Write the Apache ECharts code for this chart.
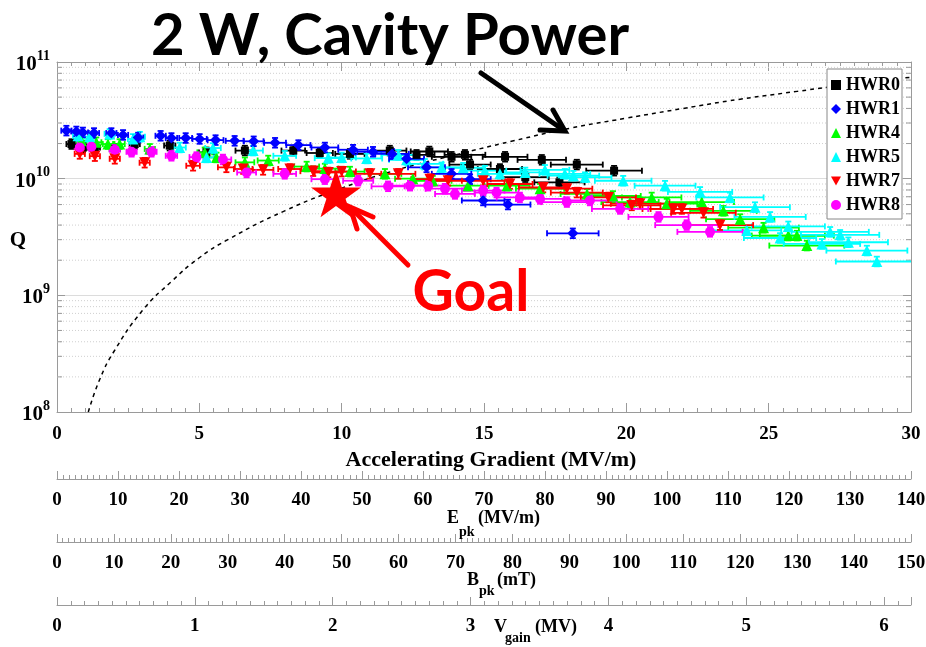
<!DOCTYPE html>
<html><head><meta charset="utf-8">
<script src="https://cdn.jsdelivr.net/npm/echarts@6/dist/echarts.min.js"></script>
<style>html,body{margin:0;padding:0;background:#fff}#c{width:926px;height:647px}</style>
</head><body><div id="c"></div>
<script>
// ---- data ----
const seriesNames = ['HWR0','HWR1','HWR4','HWR5','HWR7','HWR8'];
const hwr0 = [[0.51,1.98e10],[0.91,1.85e10],[1.33,1.85e10],[2.03,1.80e10],[2.73,1.98e10],[3.96,1.92e10],[5.25,1.68e10],[6.60,1.74e10],[8.30,1.74e10],[9.23,1.66e10],[10.29,1.63e10],[11.69,1.74e10],[12.63,1.60e10],[13.08,1.71e10],[13.86,1.54e10],[14.33,1.60e10],[14.51,1.32e10],[15.56,1.21e10],[15.74,1.54e10],[16.45,1.03e10],[17.03,1.45e10],[17.65,9.3e9],[18.26,1.32e10],[19.57,1.17e10]];
const hwr1 = [[0.33,2.58e10],[0.68,2.54e10],[0.91,2.49e10],[1.30,2.46e10],[1.91,2.46e10],[2.32,2.37e10],[2.85,2.25e10],[3.64,2.33e10],[4.02,2.23e10],[4.52,2.23e10],[5.01,2.19e10],[5.57,2.14e10],[6.24,2.11e10],[6.91,2.09e10],[7.66,2.03e10],[8.48,1.94e10],[9.41,1.85e10],[10.40,1.77e10],[11.10,1.70e10],[11.77,1.63e10],[12.28,1.48e10],[12.98,1.25e10],[13.86,1.10e10],[14.51,9.9e9],[14.97,6.5e9],[15.84,6.0e9],[18.12,3.4e9]];
const hwr4 = [[0.86,2.11e10],[1.38,2.05e10],[1.79,1.98e10],[2.20,1.98e10],[3.26,1.80e10],[5.19,1.68e10],[5.60,1.52e10],[6.60,1.38e10],[7.42,1.43e10],[8.77,1.27e10],[9.41,1.22e10],[10.29,1.15e10],[11.52,1.10e10],[12.50,1.0e10],[13.20,9.6e9],[14.44,8.7e9],[15.81,8.7e9],[16.97,8.2e9],[18.62,7.4e9],[19.53,7.1e9],[20.13,6.3e9],[20.89,6.9e9],[21.42,6.1e9],[22.65,6.3e9],[23.41,5.3e9],[24.00,4.5e9],[24.82,3.8e9],[25.69,3.25e9],[25.99,3.25e9],[26.34,2.67e9]];
const hwr5 = [[0.74,2.33e10],[1.15,2.29e10],[1.85,2.42e10],[2.67,2.19e10],[2.91,2.29e10],[4.31,1.85e10],[5.25,1.52e10],[5.48,1.83e10],[6.89,1.74e10],[8.00,1.57e10],[9.53,1.50e10],[10.0,1.52e10],[10.88,1.49e10],[11.99,1.60e10],[12.28,1.45e10],[12.92,1.34e10],[13.51,1.25e10],[14.27,1.24e10],[15.03,1.17e10],[15.56,1.10e10],[16.45,1.13e10],[17.14,1.19e10],[17.84,1.10e10],[18.14,1.06e10],[18.55,1.03e10],[19.89,9.6e9],[21.36,8.7e9],[22.59,7.7e9],[23.64,6.9e9],[24.52,5.7e9],[25.05,4.7e9],[25.69,3.9e9],[24.23,3.6e9],[25.40,3.1e9],[26.87,2.76e9],[27.16,3.5e9],[27.51,3.3e9],[27.80,2.85e9],[28.45,2.42e9],[28.80,1.95e9]];
const hwr7 = [[0.80,1.63e10],[1.33,1.56e10],[2.03,1.48e10],[3.08,1.37e10],[4.78,1.29e10],[5.95,1.25e10],[6.54,1.21e10],[7.24,1.19e10],[8.18,1.21e10],[9.00,1.16e10],[9.53,1.13e10],[10.0,1.15e10],[10.99,1.10e10],[11.99,1.10e10],[13.10,9.9e9],[13.74,9.6e9],[14.97,9.6e9],[15.91,9.0e9],[17.08,8.4e9],[17.91,8.2e9],[18.26,7.6e9],[19.37,6.9e9],[20.19,5.9e9],[20.48,6.1e9],[21.65,5.5e9],[21.95,5.5e9],[22.71,5.1e9],[23.29,4.0e9]];
const hwr8 = [[0.80,1.85e10],[1.21,1.88e10],[2.03,1.77e10],[2.62,1.70e10],[3.32,1.70e10],[4.02,1.57e10],[4.90,1.53e10],[5.83,1.46e10],[6.66,1.13e10],[8.00,1.10e10],[9.41,9.9e9],[10.58,9.6e9],[11.63,8.6e9],[12.40,8.7e9],[13.04,8.7e9],[13.63,8.2e9],[13.98,7.4e9],[14.97,7.9e9],[15.44,7.6e9],[16.26,6.9e9],[16.97,6.7e9],[17.91,6.3e9],[18.72,6.5e9],[19.78,5.5e9],[21.13,4.7e9],[22.12,4.0e9],[22.94,3.5e9]];
// 2 W cavity-power curve
const powerCurve = [[1.1,1.0e8],[1.5,1.9e8],[2,3.3e8],[3,7.4e8],[4,1.3e9],[5,2.1e9],[6,3.0e9],[8,5.3e9],[10,8.3e9],[12,1.2e10],[14,1.6e10],[16,2.1e10],[18,2.7e10],[20,3.3e10],[22,4.0e10],[24,4.8e10],[26,5.6e10],[28,6.5e10],[30,7.4e10]];
const goalPoint = [[9.8,7.5e9]];
const xErrRel = 0.05, xErrMin = 0.18, yErrRel = 0.1;
// axis ranges / ticks
const yMinorGrid = [2e8,3e8,4e8,5e8,6e8,7e8,8e8,9e8,2e9,3e9,4e9,5e9,6e9,7e9,8e9,9e9,2e10,3e10,4e10,5e10,6e10,7e10,8e10,9e10];
const eaccRange = [0,30], epkRange = [0,140], bpkRange = [0,150], vgainRange = [0,6.195];

const allData = [hwr0,hwr1,hwr4,hwr5,hwr7,hwr8];
const colors = ['#000000','#0000ff','#00ff00','#00ffff','#ff0000','#ff00ff'];
const symbols = ['rect','diamond','triangle','triangle','triangle','circle'];
const rotates = [0,0,0,0,180,0];
const sizes = [8,11,11,11,11,10];
const legendIcons = ['rect','diamond','triangle','triangle','path://M0,0L10,0L5,9Z','circle'];
const serif = '"Liberation Serif","Times New Roman",serif';
const GRAY = '#9a9a9a';

const chart = echarts.init(document.getElementById('c'));

function errRender(color){
  return function(params, api){
    const x = api.value(0), q = api.value(1);
    const dx = Math.max(xErrRel * x, xErrMin);
    const pL = api.coord([x - dx, q]), pR = api.coord([x + dx, q]);
    const pT = api.coord([x, q * (1 + yErrRel)]), pB = api.coord([x, q / (1 + yErrRel)]);
    const c = 3, st = {stroke: color, lineWidth: 1.8};
    return {type:'group', children:[
      {type:'line', shape:{x1:pL[0],y1:pL[1],x2:pR[0],y2:pR[1]}, style:st},
      {type:'line', shape:{x1:pL[0],y1:pL[1]-c,x2:pL[0],y2:pL[1]+c}, style:st},
      {type:'line', shape:{x1:pR[0],y1:pR[1]-c,x2:pR[0],y2:pR[1]+c}, style:st},
      {type:'line', shape:{x1:pT[0],y1:pT[1],x2:pB[0],y2:pB[1]}, style:st},
      {type:'line', shape:{x1:pT[0]-c,y1:pT[1],x2:pT[0]+c,y2:pT[1]}, style:st},
      {type:'line', shape:{x1:pB[0]-c,y1:pB[1],x2:pB[0]+c,y2:pB[1]}, style:st}
    ]};
  };
}

const series = [];
// minor grid lines + minor ticks on the log axis
series.push({
  type:'custom', name:'minorgrid', silent:true, z:1,
  xAxisIndex:0, yAxisIndex:0,
  data: yMinorGrid.map(v => [eaccRange[0], v]),
  renderItem: function(params, api){
    const v = api.value(1);
    const a = api.coord([eaccRange[0], v]), b = api.coord([eaccRange[1], v]);
    return {type:'group', children:[
      {type:'line', shape:{x1:a[0],y1:a[1],x2:b[0],y2:b[1]}, style:{stroke:'#cfcfcf', lineWidth:1, lineDash:[1,2]}},
      {type:'line', shape:{x1:a[0],y1:a[1],x2:a[0]+5,y2:a[1]}, style:{stroke:GRAY, lineWidth:1}},
      {type:'line', shape:{x1:b[0]-5,y1:b[1],x2:b[0],y2:b[1]}, style:{stroke:GRAY, lineWidth:1}}
    ]};
  }
});
series.push({
  type:'line', name:'2 W', data: powerCurve, smooth:true, showSymbol:false, silent:true, z:2,
  lineStyle:{color:'#000', width:1.5, type:[4,4]}
});
const drawOrder = [0,2,3,1,4,5];
drawOrder.forEach((i, k) => {
  series.push({
    type:'custom', name: seriesNames[i] + ' err', data: allData[i], clip:true, silent:true, z:3,
    encode:{x:0, y:1}, renderItem: errRender(colors[i])
  });
  series.push({
    type:'scatter', name: seriesNames[i], data: allData[i], z:3,
    symbol: symbols[i], symbolSize: sizes[i], symbolRotate: rotates[i],
    itemStyle:{color: colors[i], opacity:1}
  });
});
series.push({
  type:'scatter', name:'Goal', data: goalPoint, z:20, zlevel:1, silent:true,
  symbol:'path://M50,0 L61.8,36.2 L100,36.2 L69.1,58.6 L80.9,95.1 L50,72.7 L19.1,95.1 L30.9,58.6 L0,36.2 L38.2,36.2 Z',
  symbolSize:[50,48], itemStyle:{color:'#ff0000', opacity:1}
});

const labelStyle = {color:'#000', fontFamily:serif, fontWeight:'bold', fontSize:19};
function subAxis(gridIndex, range, interval, fmt){
  return {
    type:'value', gridIndex, min:range[0], max:range[1], interval,
    position:'bottom',
    axisLine:{show:true, onZero:false, lineStyle:{color:GRAY, width:1}},
    axisTick:{show:true, inside:true, length:8, lineStyle:{color:GRAY}},
    minorTick:{show:true, splitNumber:10, length:4, lineStyle:{color:GRAY}},
    splitLine:{show:false}, minorSplitLine:{show:false},
    axisLabel:Object.assign({margin:12, showMaxLabel:true, formatter: fmt}, labelStyle)
  };
}

const option = {
  backgroundColor:'#fff',
  animation:false,
  grid:[
    {left:57, width:854, top:62, height:350, outerBoundsMode:'none', containLabel:false},
    {left:57, width:854, top:470, height:9, outerBoundsMode:'none', containLabel:false},
    {left:57, width:854, top:533, height:9, outerBoundsMode:'none', containLabel:false},
    {left:57, width:854, top:596, height:9, outerBoundsMode:'none', containLabel:false}
  ],
  legend:{
    data: seriesNames.map((n,i)=>({name:n, icon: legendIcons[i]})),
    orient:'vertical', left:827, top:69,
    itemWidth:10, itemHeight:10, itemGap:6,
    padding:[7,2,5,4],
    backgroundColor:'#fff', borderColor:'#888', borderWidth:1, borderRadius:0,
    textStyle:{color:'#000', fontFamily:serif, fontWeight:'bold', fontSize:18, padding:[0,0,0,0]},
    selectedMode:false, z:10
  },
  xAxis:[
    {
      type:'value', gridIndex:0, min:eaccRange[0], max:eaccRange[1], interval:5, position:'bottom',
      axisLine:{show:true, onZero:false, lineStyle:{color:GRAY, width:1}},
      axisTick:{show:true, inside:true, length:9, lineStyle:{color:GRAY}},
      minorTick:{show:true, splitNumber:10, length:4, lineStyle:{color:GRAY}},
      splitLine:{show:false},
      axisLabel:Object.assign({margin:13}, labelStyle),
      name:'Accelerating Gradient (MV/m)', nameLocation:'middle', nameGap:35,
      nameTextStyle:{color:'#000', fontFamily:serif, fontWeight:'bold', fontSize:22, padding:[0,0,0,14]}
    },
    {
      type:'value', gridIndex:0, min:eaccRange[0], max:eaccRange[1], interval:5, position:'top',
      axisLine:{show:true, onZero:false, lineStyle:{color:GRAY, width:1}},
      axisTick:{show:true, inside:true, length:9, lineStyle:{color:GRAY}},
      minorTick:{show:true, splitNumber:10, length:4, lineStyle:{color:GRAY}},
      splitLine:{show:false}, axisLabel:{show:false}
    },
    subAxis(1, epkRange, 10),
    subAxis(2, bpkRange, 10),
    subAxis(3, vgainRange, 1, v => (Math.abs(v - Math.round(v)) < 1e-6 ? String(Math.round(v)) : ''))
  ],
  yAxis:[
    {
      type:'log', logBase:10, gridIndex:0, min:1e8, max:1e11, position:'left',
      axisLine:{show:true, onZero:false, lineStyle:{color:GRAY, width:1}},
      axisTick:{show:true, inside:true, length:8, lineStyle:{color:GRAY}},
      splitLine:{show:true, lineStyle:{color:'#dcdcdc', width:1}},
      axisLabel:{
        margin:7,
        formatter: v => '{a|10}{b|' + Math.round(Math.log10(v)) + '}',
        rich:{
          a:{fontFamily:serif, fontWeight:'bold', fontSize:21, color:'#000', verticalAlign:'bottom'},
          b:{fontFamily:serif, fontWeight:'bold', fontSize:14, color:'#000', verticalAlign:'top', padding:[0,0,12,0]}
        }
      }
    },
    {
      type:'log', logBase:10, gridIndex:0, min:1e8, max:1e11, position:'right',
      axisLine:{show:true, onZero:false, lineStyle:{color:GRAY, width:1}},
      axisTick:{show:true, inside:true, length:8, lineStyle:{color:GRAY}},
      splitLine:{show:false}, axisLabel:{show:false}
    },
    {type:'value', gridIndex:1, show:false, min:0, max:1},
    {type:'value', gridIndex:2, show:false, min:0, max:1},
    {type:'value', gridIndex:3, show:false, min:0, max:1}
  ],
  series: series,
  graphic:[
    {type:'text', x:390, y:36, z:20, style:{text:'2 W, Cavity Power', font:'bold 58px Lato, "Open Sans", sans-serif', fill:'#000', align:'center', verticalAlign:'middle', textAlign:'center', textVerticalAlign:'middle'}},
    {type:'text', x:471, y:293, z:20, style:{text:'Goal', font:'bold 57px Lato, "Open Sans", sans-serif', fill:'#ff0000', align:'center', verticalAlign:'middle', textAlign:'center', textVerticalAlign:'middle'}},
    {type:'line', z:20, shape:{x1:481,y1:73,x2:562,y2:129}, style:{stroke:'#000', lineWidth:5, lineCap:'round'}},
    {type:'polyline', z:20, shape:{points:[[540,130],[565,131],[553,110]]}, style:{stroke:'#000', lineWidth:5, fill:null, lineCap:'round', lineJoin:'miter'}},
    {type:'line', z:20, shape:{x1:408,y1:265,x2:353,y2:210}, style:{stroke:'#ff0000', lineWidth:5, lineCap:'round'}},
    {type:'polyline', z:20, shape:{points:[[373,217],[350,207],[357,229]]}, style:{stroke:'#ff0000', lineWidth:5, fill:null, lineCap:'round', lineJoin:'miter'}},
    {type:'text', x:18, y:241, z:20, style:{text:'Q', font:'bold 21px ' + serif, fill:'#000', align:'center', verticalAlign:'middle', textAlign:'center', textVerticalAlign:'middle'}},
    {type:'text', x:447, y:518, z:20, style:{text:'E', font:'bold 18px ' + serif, fill:'#000', align:'left', verticalAlign:'middle', textAlign:'left', textVerticalAlign:'middle'}},
    {type:'text', x:459, y:532, z:20, style:{text:'pk', font:'bold 14px ' + serif, fill:'#000', align:'left', verticalAlign:'middle', textAlign:'left', textVerticalAlign:'middle'}},
    {type:'text', x:478, y:518, z:20, style:{text:'(MV/m)', font:'bold 18px ' + serif, fill:'#000', align:'left', verticalAlign:'middle', textAlign:'left', textVerticalAlign:'middle'}},
    {type:'text', x:467, y:580, z:20, style:{text:'B', font:'bold 18px ' + serif, fill:'#000', align:'left', verticalAlign:'middle', textAlign:'left', textVerticalAlign:'middle'}},
    {type:'text', x:479, y:591, z:20, style:{text:'pk', font:'bold 14px ' + serif, fill:'#000', align:'left', verticalAlign:'middle', textAlign:'left', textVerticalAlign:'middle'}},
    {type:'text', x:497, y:580, z:20, style:{text:'(mT)', font:'bold 18px ' + serif, fill:'#000', align:'left', verticalAlign:'middle', textAlign:'left', textVerticalAlign:'middle'}},
    {type:'text', x:494, y:627, z:20, style:{text:'V', font:'bold 18px ' + serif, fill:'#000', align:'left', verticalAlign:'middle', textAlign:'left', textVerticalAlign:'middle'}},
    {type:'text', x:505, y:638, z:20, style:{text:'gain', font:'bold 14px ' + serif, fill:'#000', align:'left', verticalAlign:'middle', textAlign:'left', textVerticalAlign:'middle'}},
    {type:'text', x:535, y:627, z:20, style:{text:'(MV)', font:'bold 18px ' + serif, fill:'#000', align:'left', verticalAlign:'middle', textAlign:'left', textVerticalAlign:'middle'}}
  ]
};
chart.setOption(option);
</script>
</body></html>
